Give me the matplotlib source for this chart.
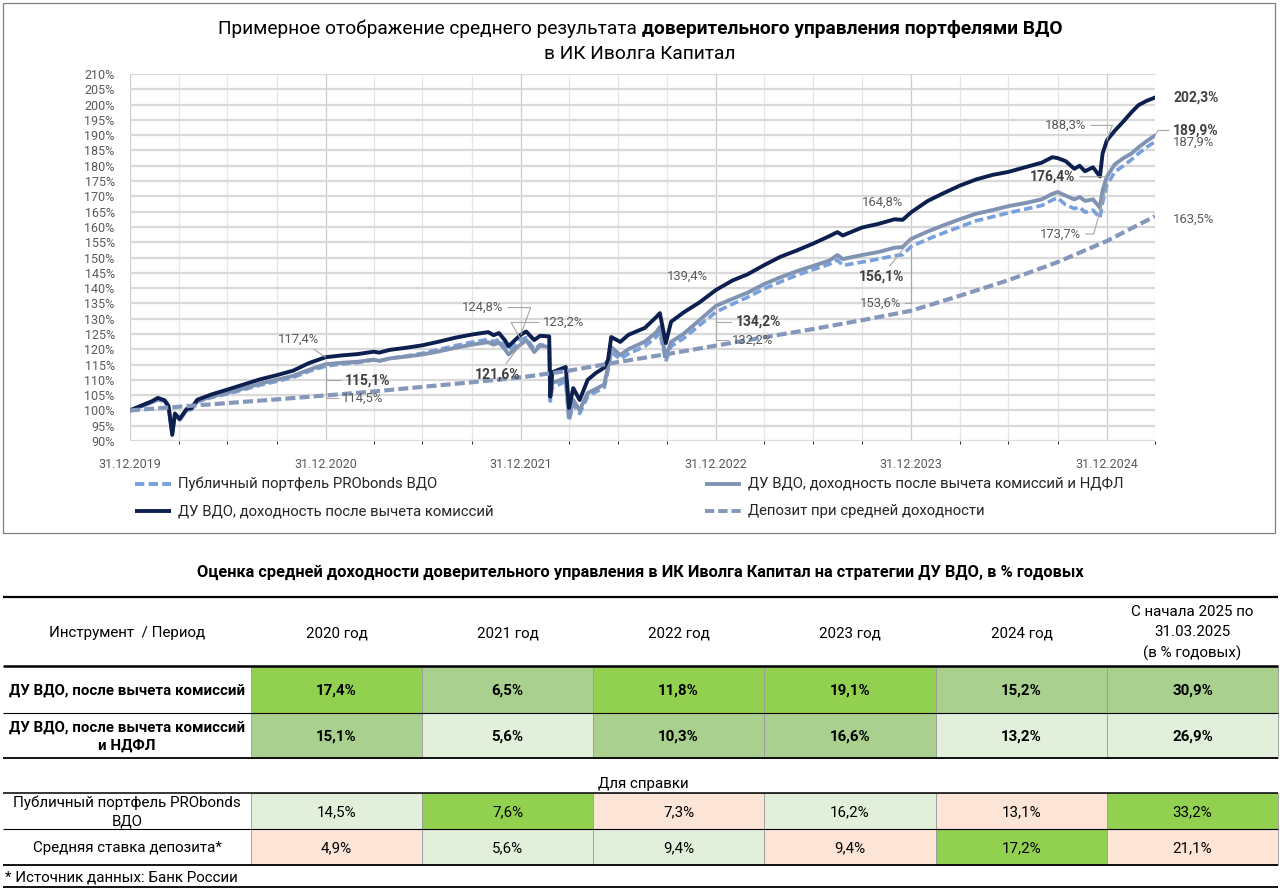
import matplotlib
matplotlib.use('Agg')
import matplotlib.pyplot as plt
import matplotlib.dates as mdates
from matplotlib.patches import Rectangle
import pandas as pd

plt.rcParams['font.family'] = ['Roboto', 'DejaVu Sans']

# --- chart data ---
line_dates = [
    '2019-12-31', '2020-01-20', '2020-02-10', '2020-02-21', '2020-03-05', '2020-03-12', '2020-03-19',
    '2020-03-24', '2020-04-02', '2020-04-15', '2020-04-24', '2020-05-05', '2020-05-31', '2020-06-30',
    '2020-07-31', '2020-08-31', '2020-09-30', '2020-10-31', '2020-11-30', '2020-12-31',
    '2021-01-31', '2021-02-28', '2021-03-31', '2021-04-10', '2021-04-30', '2021-05-31', '2021-06-30',
    '2021-07-31', '2021-08-31', '2021-09-30', '2021-10-31', '2021-11-10', '2021-11-20', '2021-12-01',
    '2021-12-08', '2021-12-31',
    '2022-01-10', '2022-01-25', '2022-02-05', '2022-02-22', '2022-02-24', '2022-02-28', '2022-03-25',
    '2022-03-31', '2022-04-08', '2022-04-20', '2022-05-05', '2022-05-20', '2022-06-05', '2022-06-12',
    '2022-06-18', '2022-07-05', '2022-07-20', '2022-08-20', '2022-09-10', '2022-09-17', '2022-09-28',
    '2022-10-08', '2022-10-31', '2022-11-30', '2022-12-31',
    '2023-01-31', '2023-02-28', '2023-03-31', '2023-04-30', '2023-05-31', '2023-06-30', '2023-07-31',
    '2023-08-15', '2023-08-25', '2023-09-30', '2023-10-31', '2023-11-30', '2023-12-15', '2023-12-31',
    '2024-01-31', '2024-02-29', '2024-03-31', '2024-04-30', '2024-05-31', '2024-06-30', '2024-07-31',
    '2024-08-31', '2024-09-20', '2024-09-30', '2024-10-15', '2024-10-31', '2024-11-10', '2024-11-20',
    '2024-12-05', '2024-12-18', '2024-12-23', '2024-12-31',
    '2025-01-15', '2025-01-31', '2025-02-15', '2025-02-28', '2025-03-15', '2025-03-31',
]

# ДУ ВДО, доходность после вычета комиссий
du_fee = [
    100.0, 101.5, 103.0, 104.1, 103.3, 101.5, 92.0,
    99.0, 97.2, 100.5, 100.8, 103.5, 105.2, 106.8,
    108.5, 110.2, 111.5, 113.0, 115.5, 117.4,
    118.0, 118.4, 119.2, 118.9, 119.8, 120.5, 121.3,
    122.5, 123.8, 124.8, 125.6, 124.6, 125.3, 123.0,
    121.0, 124.8,
    125.8, 123.0, 124.4, 124.2, 104.5, 112.5, 114.2,
    100.8, 107.3, 103.4, 110.0, 112.2, 114.0, 116.5,
    124.0, 122.4, 124.7, 127.0, 130.5, 131.8, 122.0,
    129.0, 132.0, 135.3, 139.4,
    142.5, 144.5, 147.5, 150.2, 152.3, 154.5, 157.0,
    158.3, 157.2, 159.8, 161.0, 162.5, 162.3, 164.8,
    168.5, 171.0, 173.5, 175.5, 177.0, 178.0, 179.5,
    181.0, 182.8, 182.5, 181.5, 179.0, 180.0, 178.2,
    179.5, 176.5, 184.0, 188.3,
    191.5, 194.5, 197.5, 199.8, 201.2, 202.3,
]

# ДУ ВДО, доходность после вычета комиссий и НДФЛ
du_fee_tax = [
    100.0, 101.3, 102.7, 103.7, 103.0, 101.2, 92.5,
    98.5, 97.0, 100.2, 100.5, 103.0, 104.5, 105.8,
    107.2, 108.8, 110.0, 111.3, 113.3, 115.1,
    115.6, 115.9, 116.6, 116.2, 117.0, 117.6, 118.3,
    119.3, 120.5, 121.5, 122.3, 121.5, 122.2, 120.0,
    118.3, 121.6,
    123.0, 119.1, 121.2, 120.7, 104.4, 109.0, 110.6,
    97.8, 103.4, 100.1, 105.7, 107.0, 108.5, 114.2,
    120.7, 118.1, 120.0, 122.5, 125.5, 127.3, 117.5,
    122.4, 125.0, 129.5, 134.2,
    136.5, 138.5, 141.3, 143.5, 145.5, 147.2, 149.0,
    150.8, 149.5, 150.8, 151.8, 153.2, 153.4, 156.1,
    158.5, 160.5, 162.5, 164.3, 165.5, 166.8, 167.8,
    169.0, 170.8, 171.4, 170.2, 169.0, 169.8, 168.5,
    169.0, 166.3, 172.0, 176.4,
    180.5, 182.5, 184.0, 186.0, 188.0, 189.9,
]

# Публичный портфель PRObonds ВДО
probonds = [
    100.0, 101.2, 102.5, 103.5, 102.8, 101.0, 93.0,
    98.0, 97.0, 100.0, 100.3, 102.8, 104.2, 105.4,
    106.8, 108.3, 109.5, 110.8, 112.8, 114.5,
    115.2, 115.6, 116.5, 116.1, 117.0, 117.8, 118.7,
    119.9, 121.2, 122.3, 123.2, 122.5, 123.2, 121.2,
    119.5, 123.2,
    123.8, 120.0, 121.5, 121.0, 103.0, 107.5, 109.5,
    96.5, 102.0, 99.0, 104.5, 106.0, 107.5, 113.0,
    119.0, 116.8, 118.5, 121.0, 124.0, 125.5, 116.0,
    121.0, 123.5, 127.8, 132.2,
    134.8, 137.0, 139.8, 142.0, 144.2, 146.0, 147.8,
    149.2, 147.4, 148.5, 149.5, 150.6, 150.9, 153.6,
    156.0, 158.0, 160.0, 162.0, 163.3, 164.6, 165.8,
    167.0, 168.8, 169.5, 167.2, 166.0, 166.5, 164.8,
    165.5, 162.9, 168.0, 173.7,
    178.0, 180.0, 182.0, 184.0, 186.0, 187.9,
]

dep_dates = [
    '2019-12-31', '2020-03-31', '2020-06-30', '2020-09-30', '2020-12-31', '2021-03-31', '2021-06-30',
    '2021-09-30', '2021-12-31', '2022-03-31', '2022-06-30', '2022-09-30', '2022-12-31', '2023-03-31',
    '2023-06-30', '2023-09-30', '2023-12-31', '2024-03-31', '2024-06-30', '2024-09-30', '2024-12-31',
    '2025-03-31',
]
# Депозит при средней доходности
deposit = [
    100.0, 101.2, 102.4, 103.6, 104.9, 106.2, 107.7,
    109.2, 110.8, 113.0, 115.8, 118.4, 121.2, 123.9,
    126.6, 129.5, 132.6, 137.5, 142.6, 148.5, 155.4,
    163.5,
]

year_ends = ['2019-12-31', '2020-12-31', '2021-12-31', '2022-12-31', '2023-12-31', '2024-12-31']

# --- table data ---
table_cols = ['2020 год', '2021 год', '2022 год', '2023 год', '2024 год',
              'С начала 2025 по\n31.03.2025\n(в % годовых)']
row_labels = ['ДУ ВДО, после вычета комиссий',
              'ДУ ВДО, после вычета комиссий\nи НДФЛ',
              'Публичный портфель PRObonds\nВДО',
              'Средняя ставка депозита*']
row_du_fee = [17.4, 6.5, 11.8, 19.1, 15.2, 30.9]
row_du_fee_tax = [15.1, 5.6, 10.3, 16.6, 13.2, 26.9]
row_probonds = [14.5, 7.6, 7.3, 16.2, 13.1, 33.2]
row_deposit = [4.9, 5.6, 9.4, 9.4, 17.2, 21.1]

# cell shading (style)
G, M, L, P = '#92d050', '#a9d08e', '#e2efda', '#fce4d6'
shade = [[G, M, G, G, M, M],
         [M, L, M, M, L, L],
         [L, G, P, L, P, G],
         [P, L, L, P, G, P]]

C_DARK = '#0d1f4f'
C_GRAY = '#8193b2'
C_LIGHT = '#78a0dd'
C_DEP = '#8598bb'
TXT = '#595959'
TBL = 10.9


def pct(v):
    return '{:.1f}%'.format(v).replace('.', ',')


fig = plt.figure(figsize=(12.8, 8.91), dpi=100)

# full-figure pixel canvas for frame, legend and table
bg = fig.add_axes([0, 0, 1, 1])
bg.set_xlim(0, 1280)
bg.set_ylim(891, 0)
bg.axis('off')
bg.set_zorder(0)

bg.add_patch(Rectangle((3, 3), 1272, 530, fill=False, ec='#7f7f7f', lw=0.9))

renderer = fig.canvas.get_renderer()


def text_width(s, size, weight):
    t = bg.text(0, 0, s, fontsize=size, fontweight=weight)
    w = t.get_window_extent(renderer=renderer).width
    t.remove()
    return w


def mixed_line(parts, y, size):
    space = text_width('а а', size, 'normal') - text_width('аа', size, 'normal')
    widths = [text_width(s, size, w) for s, w in parts]
    total = sum(widths) + space * (len(parts) - 1)
    x = 640 - total / 2
    for (s, w), wd in zip(parts, widths):
        bg.text(x, y, s, fontsize=size, fontweight=w, ha='left', va='center', color='#000000')
        x += wd + space


mixed_line([('Примерное отображение среднего результата', 'normal'),
            ('доверительного управления портфелями ВДО', 'bold')], 29, 13.8)
mixed_line([('в ИК Иволга Капитал', 'normal')], 54, 13.8)

# --- main line chart ---
ax = fig.add_axes([130 / 1280, 1 - 441 / 891, 1025 / 1280, 367 / 891])
ax.set_zorder(1)
ax.patch.set_alpha(0)

d_line = pd.to_datetime(line_dates)
d_dep = pd.to_datetime(dep_dates)

ax.plot(d_line, probonds, color=C_LIGHT, lw=2.6, ls=(0, (2.4, 1.1)), zorder=3)
ax.plot(d_line, du_fee_tax, color=C_GRAY, lw=2.8, zorder=4)
ax.plot(d_line, du_fee, color=C_DARK, lw=2.8, zorder=5)
ax.plot(d_dep, deposit, color=C_DEP, lw=3.0, ls=(0, (2.4, 1.0)), zorder=6)

ax.set_ylim(90, 210)
ax.set_xlim(pd.Timestamp('2019-12-31'), pd.Timestamp('2025-03-31'))
ax.set_yticks(range(90, 211, 5))
ax.set_yticklabels(['{}%'.format(v) for v in range(90, 211, 5)])
ax.set_xticks(pd.to_datetime(year_ends))
ax.xaxis.set_major_formatter(mdates.DateFormatter('%d.%m.%Y'))
ax.xaxis.set_minor_locator(mdates.MonthLocator(bymonth=[3, 6, 9], bymonthday=-1))
ax.tick_params(axis='both', length=0, labelsize=9.0, labelcolor=TXT)
ax.tick_params(axis='y', pad=11)
ax.tick_params(axis='x', pad=12)
ax.grid(axis='y', color='#d9d9d9', lw=1.6, zorder=0)
ax.grid(axis='x', which='major', color='#cccccc', lw=0.9, zorder=0)
ax.grid(axis='x', which='minor', color='#e6e6e6', lw=0.9, zorder=0)
ax.set_axisbelow(True)
for s in ax.spines.values():
    s.set_visible(False)

series = {'dark': du_fee, 'gray': du_fee_tax, 'light': probonds}

# (series, date, bold, dx px, dy px, connection or None)
labels = [
    ('dark', '2020-12-31', False, -27, 18, 'arc3'),
    ('gray', '2020-12-31', True, 42, -16, 'angle,angleA=0,angleB=90,rad=0'),
    ('light', '2020-12-31', False, 37, -32, 'angle,angleA=0,angleB=90,rad=0'),
    ('dark', '2021-12-31', False, -38, 27, 'angle,angleA=0,angleB=70,rad=0'),
    ('light', '2021-12-31', False, 43, 17, 'angle,angleA=0,angleB=-60,rad=0'),
    ('gray', '2021-12-31', True, -23, -30, 'arc3'),
    ('dark', '2022-12-31', False, -29, 14, None),
    ('gray', '2022-12-31', True, 42, -16, 'angle,angleA=0,angleB=90,rad=0'),
    ('light', '2022-12-31', False, 37, -28, 'angle,angleA=0,angleB=90,rad=0'),
    ('dark', '2023-12-31', False, -29, 10, None),
    ('gray', '2023-12-31', True, -30, -38, 'arc3'),
    ('light', '2023-12-31', False, -31, -57, 'angle,angleA=0,angleB=90,rad=0'),
    ('dark', '2024-12-31', False, -41, 15, 'angle,angleA=0,angleB=70,rad=0'),
    ('gray', '2024-12-31', True, -54, 0, 'arc3'),
    ('light', '2024-12-31', False, -46, -49, 'angle,angleA=0,angleB=75,rad=0'),
]

for key, d, bold, dx, dy, conn in labels:
    v = series[key][line_dates.index(d)]
    ap = None
    if conn:
        ap = dict(arrowstyle='-', color='#a6a6a6', lw=0.8, shrinkA=1, shrinkB=0,
                  connectionstyle=conn)
    ax.annotate(pct(v), xy=(pd.Timestamp(d), v), xytext=(dx, dy), textcoords='offset pixels',
                ha='center', va='center', fontsize=10.0 if bold else 9.4,
                fontweight='bold' if bold else 'normal',
                color='#404040' if bold else TXT, arrowprops=ap, zorder=8)

end = pd.Timestamp(line_dates[-1])
ends = [(du_fee[-1], True, 0), (du_fee_tax[-1], True, 5), (probonds[-1], False, -1), (deposit[-1], False, -3)]
for v, bold, dy in ends:
    ax.annotate(pct(v), xy=(end, v), xytext=(18, dy), textcoords='offset pixels',
                ha='left', va='center', fontsize=10.0 if bold else 9.4,
                fontweight='bold' if bold else 'normal',
                color='#404040' if bold else TXT, annotation_clip=False)
ax.annotate('', xy=(end, du_fee_tax[-1]), xytext=(14, 5), textcoords='offset pixels',
            arrowprops=dict(arrowstyle='-', color='#a6a6a6', lw=0.8, shrinkA=0, shrinkB=0,
                            connectionstyle='angle,angleA=0,angleB=60,rad=0'),
            annotation_clip=False)

# --- legend ---
legend_items = [
    (135, 484, C_LIGHT, (0, (2.4, 1.1)), 'Публичный портфель PRObonds ВДО'),
    (135, 511, C_DARK, '-', 'ДУ ВДО, доходность после вычета комиссий'),
    (705, 484, C_GRAY, '-', 'ДУ ВДО, доходность после вычета комиссий и НДФЛ'),
    (705, 511, C_DEP, (0, (2.4, 1.0)), 'Депозит при средней доходности'),
]
for x, y, c, ls, name in legend_items:
    bg.plot([x, x + 36], [y, y], color=c, lw=2.8, ls=ls, solid_capstyle='butt')
    bg.text(x + 43, y, name, fontsize=10.7, va='center', ha='left', color='#262626')

# --- table ---
bg.text(640, 572, 'Оценка средней доходности доверительного управления в ИК Иволга Капитал '
        'на стратегии ДУ ВДО, в % годовых', fontsize=11.8, fontweight='bold',
        ha='center', va='center')

col_edges = [3, 251, 422, 593, 764, 936, 1107, 1278]
centers = [(a + b) / 2 for a, b in zip(col_edges[:-1], col_edges[1:])]

bg.text(centers[0], 633, 'Инструмент  / Период', fontsize=TBL, ha='center', va='center')
for c, name in zip(centers[1:], table_cols):
    bg.text(c, 633, name, fontsize=TBL, ha='center', va='center', linespacing=1.55)

row_spans = [(667, 713), (713, 758), (793, 829), (829, 865)]
row_values = [row_du_fee, row_du_fee_tax, row_probonds, row_deposit]
for i, ((y0, y1), vals) in enumerate(zip(row_spans, row_values)):
    bold = i < 2
    ym = (y0 + y1) / 2
    for j, v in enumerate(vals):
        x0, x1 = col_edges[j + 1], col_edges[j + 2]
        bg.add_patch(Rectangle((x0, y0), x1 - x0, y1 - y0, fc=shade[i][j], ec='#9a9a9a', lw=0.6))
        bg.text(centers[j + 1], ym + 1, pct(v), fontsize=TBL, ha='center', va='center',
                fontweight='bold' if bold else 'normal')
    bg.text(centers[0], ym + 1, row_labels[i], fontsize=TBL, ha='center', va='center',
            fontweight='bold' if bold else 'normal', linespacing=1.4)

bg.text(643, 784, 'Для справки', fontsize=TBL, ha='center', va='center')
bg.text(5, 877, '* Источник данных: Банк России', fontsize=TBL, ha='left', va='center')

for y, lw in [(597, 1.6), (666, 1.8), (713, 0.8), (758, 1.3), (793, 1.1), (829, 0.8), (865, 1.3), (887, 1.3)]:
    bg.plot([3, 1278], [y, y], color='#000000', lw=lw, solid_capstyle='butt')

fig.savefig('out.png', dpi=100)
